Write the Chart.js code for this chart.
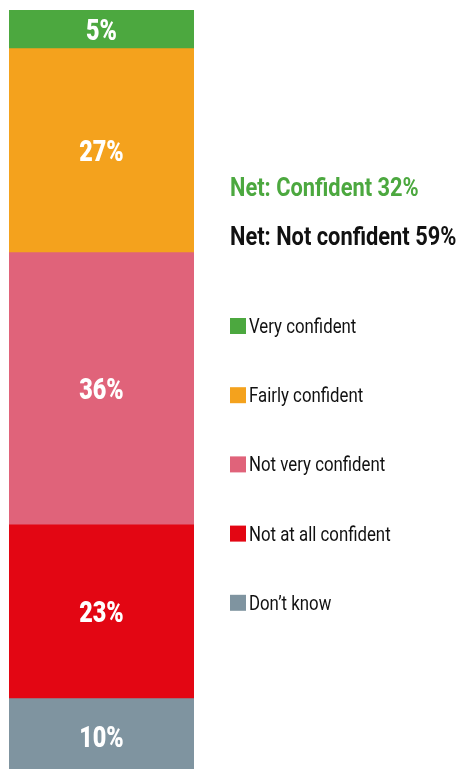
<!DOCTYPE html>
<html>
<head>
<meta charset="utf-8">
<script src="https://cdn.jsdelivr.net/npm/chart.js@4"></script>
<style>
    body { margin: 0; background: #FFFFFF; }
    #chartCanvas { display: block; }
</style>
</head>
<body>
<canvas id="chartCanvas" width="457" height="769"></canvas>
<script>
// Survey answers, top of the bar to the bottom
const answerLabels = ["Very confident", "Fairly confident", "Not very confident", "Not at all confident", "Don\u2019t know"];
const answerValues = [5, 27, 36, 23, 10];
const answerColors = ["#4CA83F", "#F4A21D", "#E0637A", "#E30613", "#7F94A0"];

const netConfident = answerValues[0] + answerValues[1];
const netNotConfident = answerValues[2] + answerValues[3];

const baseFont = "Roboto, 'DejaVu Sans', sans-serif";

/**
 * @brief Draws text squeezed horizontally to look like a condensed face.
 */
function fillCondensed(c, text, x, y, squeeze, align) {
    c.save();
    c.translate(x, y);
    c.scale(squeeze, 1);
    c.textAlign = align;
    c.fillText(text, 0, 0);
    c.restore();
}

/**
 * @brief Writes the percentage in the middle of every segment.
 */
const segmentLabels = {
    id: "segmentLabels",
    afterDatasetsDraw(chart) {
        const c = chart.ctx;
        const bottom = chart.chartArea.bottom;
        c.save();
        c.fillStyle = "#FFFFFF";
        c.textBaseline = "alphabetic";
        c.font = "900 30px " + baseFont;
        chart.data.datasets.forEach((ds, i) => {
            const bar = chart.getDatasetMeta(i).data[0];
            const mid = (bar.y + Math.min(bar.base, bottom + 4)) / 2;
            fillCondensed(c, ds.data[0] + "%", bar.x, mid + 11, 0.78, "center");
        });
        c.restore();
    }
};

/**
 * @brief Draws the net totals and the legend to the right of the bar.
 */
const sideLegend = {
    id: "sideLegend",
    afterDraw(chart) {
        const c = chart.ctx;
        const x = chart.chartArea.right + 36;
        c.save();
        c.textBaseline = "alphabetic";

        c.font = "bold 26px " + baseFont;
        c.fillStyle = answerColors[0];
        fillCondensed(c, "Net: Confident " + netConfident + "%", x, 196, 0.84, "left");
        c.fillStyle = "#111111";
        fillCondensed(c, "Net: Not confident " + netNotConfident + "%", x, 245, 0.84, "left");

        c.font = "21px " + baseFont;
        answerLabels.forEach((label, i) => {
            const y = 326 + i * 69.2;
            c.fillStyle = answerColors[i];
            c.fillRect(x, y - 8, 16, 16);
            c.fillStyle = "#111111";
            fillCondensed(c, label, x + 19, y + 7, 0.8, "left");
        });
        c.restore();
    }
};

const ctx = document.getElementById("chartCanvas").getContext("2d");
const chart = new Chart(ctx, {
    type: "bar",
    data: {
        labels: [""],
        datasets: answerLabels.map((label, i) => ({
            label: label,
            data: [answerValues[i]],
            backgroundColor: answerColors[i],
            borderWidth: 0,
            barPercentage: 1,
            categoryPercentage: 1
        }))
    },
    options: {
        responsive: false,
        animation: false,
        layout: {
            padding: { left: 9, right: 263, top: 10, bottom: 0 }
        },
        plugins: {
            legend: { display: false },
            tooltip: { enabled: false }
        },
        scales: {
            x: { stacked: true, display: false },
            y: {
                stacked: true,
                display: false,
                reverse: true,
                min: 0,
                max: 100.4
            }
        }
    },
    plugins: [segmentLabels, sideLegend]
});
</script>
</body>
</html>
